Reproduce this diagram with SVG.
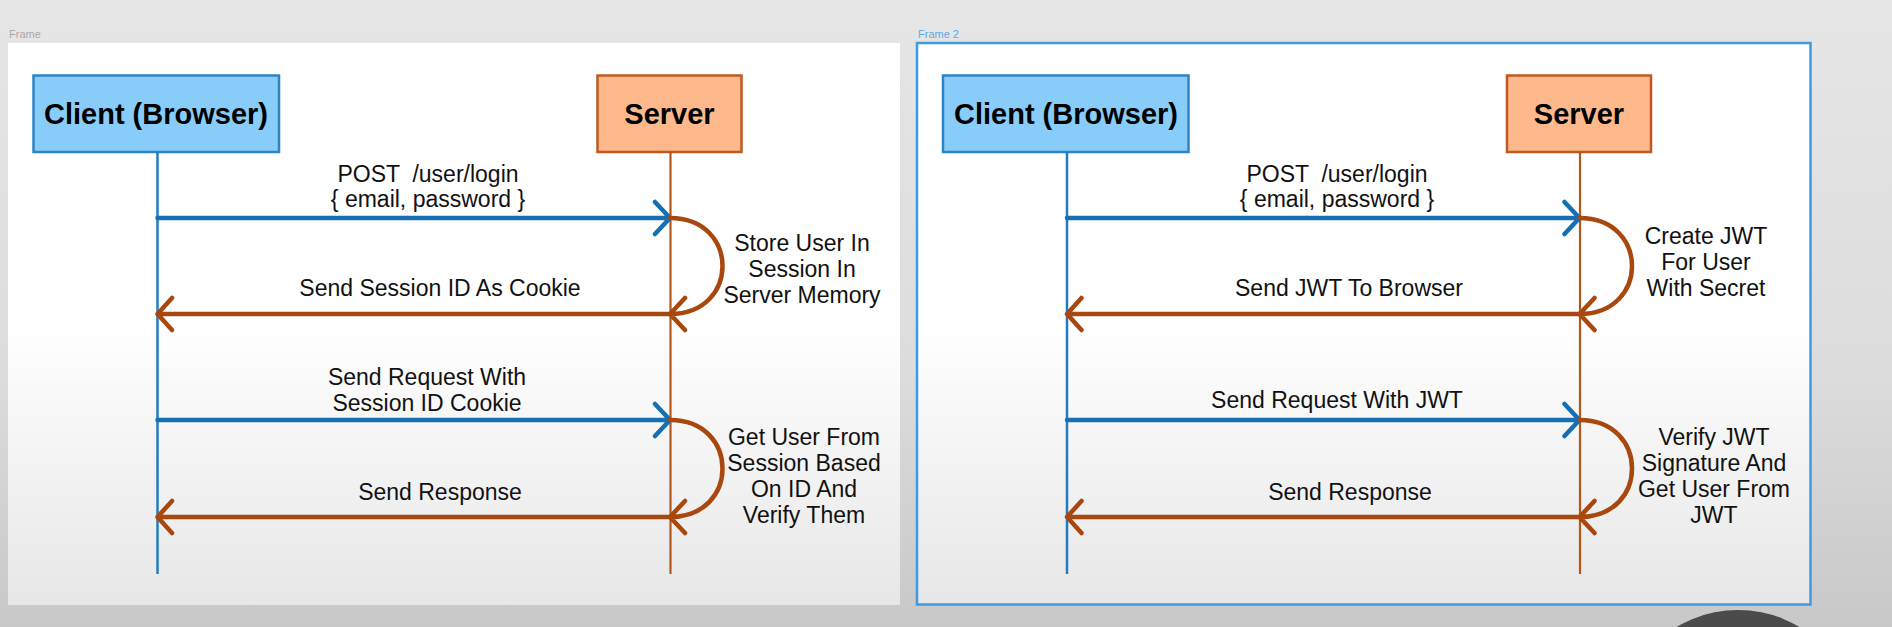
<svg xmlns="http://www.w3.org/2000/svg" width="1892" height="627" viewBox="0 0 1892 627">
  <defs>
    <linearGradient id="bg" x1="0" y1="0" x2="0" y2="1">
      <stop offset="0" stop-color="#e6e6e6"/>
      <stop offset="0.6" stop-color="#dcdcdc"/>
      <stop offset="1" stop-color="#c8c8c8"/>
    </linearGradient>
    <linearGradient id="panel" x1="0" y1="0" x2="0" y2="1">
      <stop offset="0" stop-color="#ffffff"/>
      <stop offset="0.5" stop-color="#ffffff"/>
      <stop offset="1" stop-color="#e7e7e7"/>
    </linearGradient>
    <style>
      .frame-label { font-family: "Liberation Sans", Arial, sans-serif; font-size: 11px; }
      .title { font-family: "Liberation Sans", Arial, sans-serif; font-size: 29px; font-weight: bold; fill: #000; text-anchor: middle; }
      .lbl { font-family: "Liberation Sans", Arial, sans-serif; font-size: 23px; fill: #111; text-anchor: middle; }
      .client { fill: #88cdf9; stroke: #2c84c6; stroke-width: 2.5; }
      .server { fill: #fdb98b; stroke: #c0591f; stroke-width: 2.5; }
      .life-c { stroke: #1f7cc2; stroke-width: 2.5; fill: none; }
      .life-s { stroke: #b5561c; stroke-width: 2.2; fill: none; }
      .req { stroke: #1470b2; stroke-width: 4.5; fill: none; stroke-linecap: round; stroke-linejoin: round; }
      .res { stroke: #a8470e; stroke-width: 4.5; fill: none; stroke-linecap: round; stroke-linejoin: round; }
    </style>
  </defs>

  <rect x="0" y="0" width="1892" height="627" fill="url(#bg)"/>

  <!-- Frame 1 -->
  <g id="frame1">
    <text class="frame-label" x="9" y="38" fill="#a8a8a8">Frame</text>
    <rect x="8" y="43" width="892" height="562" fill="url(#panel)"/>
  </g>
  <!-- Frame 2 -->
  <g id="frame2">
    <text class="frame-label" x="918" y="38" fill="#5fa8e0">Frame 2</text>
    <rect x="917" y="43" width="893.5" height="561.5" fill="url(#panel)" stroke="#3d9ce0" stroke-width="2.5"/>
  </g>

  <!-- overlay shape bottom right -->
  <circle cx="1738" cy="730" r="120" fill="#4b4b4b"/>

  <!-- Nodes, frame 1 -->
  <g id="client1">
    <rect class="client" x="33.5" y="75.5" width="245.5" height="76.5"/>
    <text class="title" x="156" y="124">Client (Browser)</text>
  </g>
  <g id="server1">
    <rect class="server" x="597.5" y="75.5" width="144" height="76.5"/>
    <text class="title" x="669.5" y="124">Server</text>
  </g>

  <!-- Nodes, frame 2 -->
  <g id="client2">
    <rect class="client" x="943" y="75.5" width="245.5" height="76.5"/>
    <text class="title" x="1066" y="124">Client (Browser)</text>
  </g>
  <g id="server2">
    <rect class="server" x="1507" y="75.5" width="144" height="76.5"/>
    <text class="title" x="1579" y="124">Server</text>
  </g>

  <!-- Connectors -->
  <g id="connectors">
    <!-- frame 1 lifelines -->
    <line class="life-c" x1="157.5" y1="152" x2="157.5" y2="574"/>
    <line class="life-s" x1="670.5" y1="152" x2="670.5" y2="574"/>
    <!-- frame 1 messages -->
    <path class="req" d="M157.5,218 H670 M655,202 L670,218 L655,234"/>
    <path class="res" d="M670,218 C740,218 740,314 670,314 M685,298 L670,314 L685,330"/>
    <path class="res" d="M670,314 H157.5 M172,298 L157.5,314 L172,330"/>
    <path class="req" d="M157.5,420 H670 M655,404 L670,420 L655,436"/>
    <path class="res" d="M670,420 C740,420 740,517 670,517 M685,501 L670,517 L685,533"/>
    <path class="res" d="M670,517 H157.5 M172,501 L157.5,517 L172,533"/>

    <!-- frame 2 lifelines -->
    <line class="life-c" x1="1067" y1="152" x2="1067" y2="574"/>
    <line class="life-s" x1="1580" y1="152" x2="1580" y2="574"/>
    <!-- frame 2 messages -->
    <path class="req" d="M1067,218 H1579.5 M1564.5,202 L1579.5,218 L1564.5,234"/>
    <path class="res" d="M1579.5,218 C1649.5,218 1649.5,314 1579.5,314 M1594.5,298 L1579.5,314 L1594.5,330"/>
    <path class="res" d="M1579.5,314 H1067 M1081.5,298 L1067,314 L1081.5,330"/>
    <path class="req" d="M1067,420 H1579.5 M1564.5,404 L1579.5,420 L1564.5,436"/>
    <path class="res" d="M1579.5,420 C1649.5,420 1649.5,517 1579.5,517 M1594.5,501 L1579.5,517 L1594.5,533"/>
    <path class="res" d="M1579.5,517 H1067 M1081.5,501 L1067,517 L1081.5,533"/>
  </g>

  <!-- Labels frame 1 -->
  <g id="labels1">
    <text class="lbl" x="428" y="182" xml:space="preserve">POST  /user/login</text>
    <text class="lbl" x="428" y="207">{ email, password }</text>
    <text class="lbl" x="440" y="296">Send Session ID As Cookie</text>
    <text class="lbl" x="802" y="251">Store User In</text>
    <text class="lbl" x="802" y="277">Session In</text>
    <text class="lbl" x="802" y="303">Server Memory</text>
    <text class="lbl" x="427" y="385">Send Request With</text>
    <text class="lbl" x="427" y="411">Session ID Cookie</text>
    <text class="lbl" x="440" y="500">Send Response</text>
    <text class="lbl" x="804" y="445">Get User From</text>
    <text class="lbl" x="804" y="471">Session Based</text>
    <text class="lbl" x="804" y="497">On ID And</text>
    <text class="lbl" x="804" y="523">Verify Them</text>
  </g>

  <!-- Labels frame 2 -->
  <g id="labels2">
    <text class="lbl" x="1337" y="182" xml:space="preserve">POST  /user/login</text>
    <text class="lbl" x="1337" y="207">{ email, password }</text>
    <text class="lbl" x="1349" y="296">Send JWT To Browser</text>
    <text class="lbl" x="1706" y="244">Create JWT</text>
    <text class="lbl" x="1706" y="270">For User</text>
    <text class="lbl" x="1706" y="296">With Secret</text>
    <text class="lbl" x="1337" y="408">Send Request With JWT</text>
    <text class="lbl" x="1350" y="500">Send Response</text>
    <text class="lbl" x="1714" y="445">Verify JWT</text>
    <text class="lbl" x="1714" y="471">Signature And</text>
    <text class="lbl" x="1714" y="497">Get User From</text>
    <text class="lbl" x="1714" y="523">JWT</text>
  </g>
</svg>
